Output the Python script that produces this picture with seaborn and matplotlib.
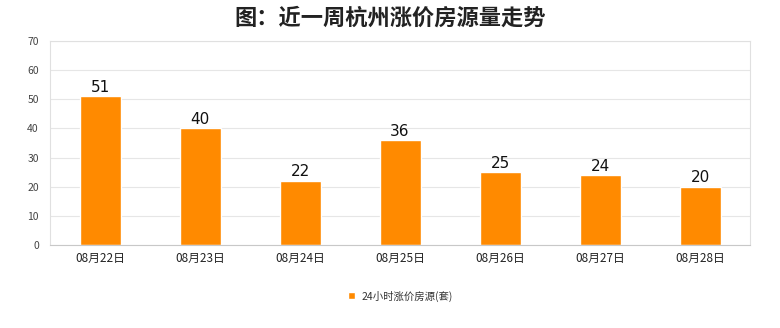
import matplotlib
matplotlib.use("Agg")
import matplotlib.pyplot as plt
import seaborn as sns
import pandas as pd

categories = ["08月22日", "08月23日", "08月24日", "08月25日", "08月26日", "08月27日", "08月28日"]
values = [51, 40, 22, 36, 25, 24, 20]
series_name = "24小时涨价房源(套)"
yticks = [0, 10, 20, 30, 40, 50, 60, 70]
title = "图：近一周杭州涨价房源量走势"

sns.set_theme(style="white")
plt.rcParams['font.family'] = ['Noto Sans CJK SC', 'DejaVu Sans']

df = pd.DataFrame({"date": categories, "value": values, "series": series_name})

fig = plt.figure(figsize=(7.8, 3.28), dpi=100)
ax = fig.add_axes([50/780, 1-245/328, 700/780, 204/328])

sns.barplot(data=df, x="date", y="value", hue="series", palette=["#FF8A00"],
            width=0.41, ax=ax, saturation=1, legend=True)

ax.set_ylim(0, 70)
ax.set_yticks(yticks)
ax.set_xlim(-0.5, len(categories) - 0.5)
ax.yaxis.grid(True, color="#e6e6e6", linewidth=0.8)
ax.set_axisbelow(True)
for s in ax.spines.values():
    s.set_color("#e0e0e0")
    s.set_linewidth(0.8)
ax.spines["bottom"].set_color("#c8c8c8")
ax.set_xlabel("")
ax.set_ylabel("")
ax.tick_params(axis="y", labelsize=7.5, colors="#444444", length=0, pad=8)
ax.tick_params(axis="x", labelsize=8.5, colors="#222222", length=0, pad=5)

for c in ax.containers:
    ax.bar_label(c, labels=[str(v) for v in values], fontsize=11, color="#111111", padding=1,
                 family=["DejaVu Sans"])

leg = ax.legend(loc="center", bbox_to_anchor=(0.5, (245 - 296) / 204),
                frameon=False, fontsize=7.5, handlelength=0.7, handleheight=0.7,
                handletextpad=0.6)
for t in leg.get_texts():
    t.set_color("#333333")

fig.text(0.5, 1 - 18/328, title, ha="center", va="center", fontsize=16,
         fontweight="bold", color="#222222")

fig.savefig("out.png", dpi=100, facecolor="white")
